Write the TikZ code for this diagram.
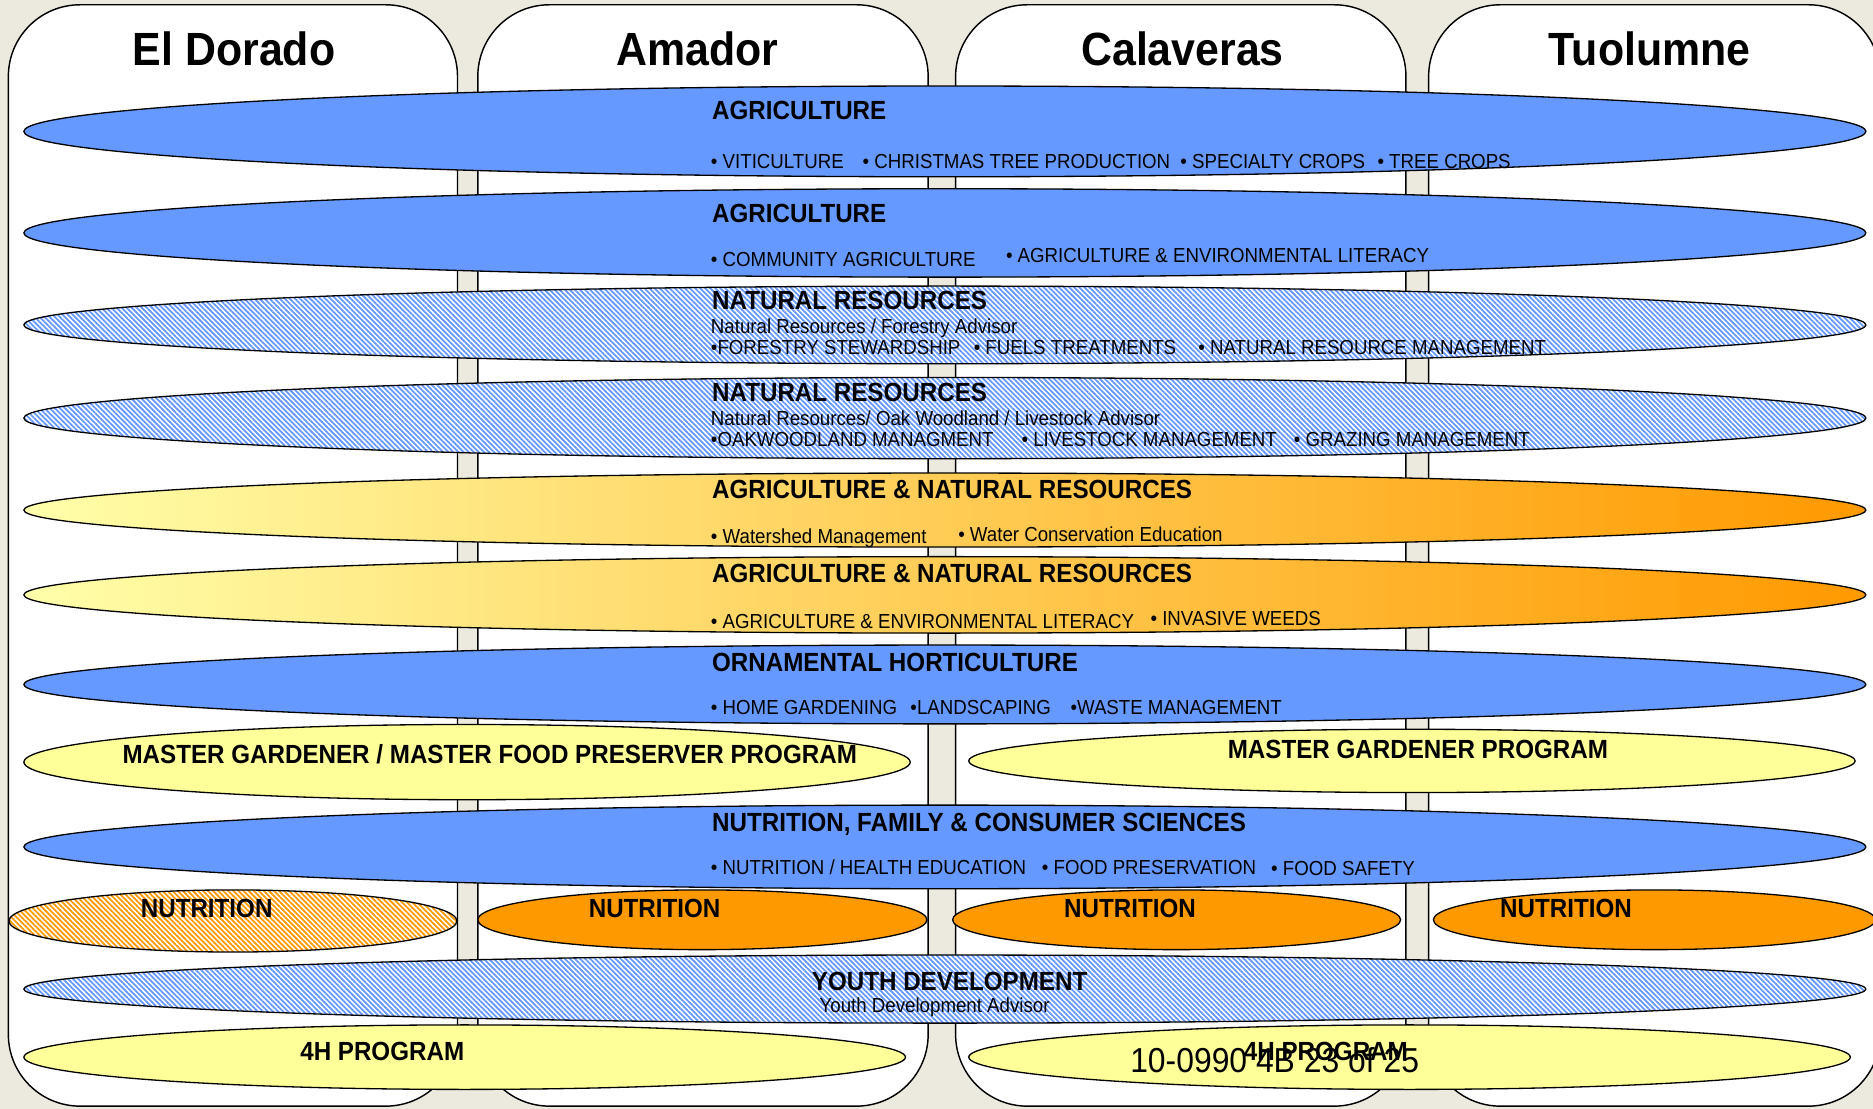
\documentclass[tikz,border=0pt]{standalone}
\usepackage{fontspec}
\setmainfont{Liberation Sans}[FakeStretch=0.92]
\usetikzlibrary{shapes.geometric,patterns.meta}
\definecolor{bgbeige}{RGB}{236,233,222}
\definecolor{ucblue}{RGB}{102,153,255}
\definecolor{ucyellow}{RGB}{255,255,153}
\definecolor{ucorange}{RGB}{255,153,0}
\definecolor{gradleft}{RGB}{255,255,170}
\definecolor{gradmid}{RGB}{255,224,136}
\begin{document}
\begin{tikzpicture}[x=1pt,y=-1pt,
  county/.style={draw=black,line width=1.2pt,fill=white,rounded corners=60pt},
  band/.style={ellipse,draw=black,line width=1.1pt,inner sep=0pt},
  solidblue/.style={band,fill=ucblue},
  solidyellow/.style={band,fill=ucyellow},
  solidorange/.style={band,fill=ucorange},
  gradband/.style={band,left color=gradleft,middle color=gradmid,right color=ucorange},
  hatchblue/.style={band,preaction={fill=white},pattern={Lines[angle=-45,distance=3pt,line width=1.5pt]},pattern color=ucblue},
  hatchorange/.style={band,preaction={fill=white},pattern={Lines[angle=-45,distance=3pt,line width=1.5pt]},pattern color=ucorange},
  ctitle/.style={anchor=base,inner sep=0pt,font=\fontsize{39}{42}\selectfont\bfseries},
  head/.style={anchor=base west,inner sep=0pt,font=\fontsize{22}{24}\selectfont\bfseries},
  chead/.style={anchor=base,inner sep=0pt,font=\fontsize{22}{24}\selectfont\bfseries},
  item/.style={anchor=base west,inner sep=0pt,font=\fontsize{17}{19}\selectfont},
  docno/.style={anchor=base west,inner sep=0pt,font=\fontsize{29}{31}\selectfont},
]
\useasboundingbox (0,0) rectangle (1568,928);
\clip (0,0) rectangle (1568,928);
\fill[bgbeige] (0,0) rectangle (1568,928);

% county columns
\draw[county] (7,4) rectangle (383,926);
\draw[county] (400,4) rectangle (777,926);
\draw[county] (800,4) rectangle (1177,926);
\draw[county] (1196,4) rectangle (1574,926);
\node[ctitle] (tEl) at (196,55) {El Dorado};
\node[ctitle] (tAm) at (584,55) {Amador};
\node[ctitle] (tCa) at (990,55) {Calaveras};
\node[ctitle] (tTu) at (1381,55) {Tuolumne};

% bands
\node[solidblue,minimum width=1542pt,minimum height=76pt] (agA) at (791,110) {};
\node[solidblue,minimum width=1542pt,minimum height=74pt] (agB) at (791,195) {};
\node[hatchblue,minimum width=1542pt,minimum height=65pt] (nrA) at (791,272) {};
\node[hatchblue,minimum width=1542pt,minimum height=68pt] (nrB) at (791,350) {};
\node[gradband,minimum width=1542pt,minimum height=62pt] (anrA) at (791,427) {};
\node[gradband,minimum width=1542pt,minimum height=64pt] (anrB) at (791,498) {};
\node[solidblue,minimum width=1542pt,minimum height=66pt] (oh) at (791,573) {};
\node[solidyellow,minimum width=742pt,minimum height=63pt] (mgA) at (391,638) {};
\node[solidyellow,minimum width=742pt,minimum height=53pt] (mgB) at (1182,637) {};
\node[solidblue,minimum width=1542pt,minimum height=70pt] (nfcs) at (791,709) {};
\node[hatchorange,minimum width=375pt,minimum height=52pt] (nutA) at (195,771) {};
\node[solidorange,minimum width=376pt,minimum height=50pt] (nutB) at (588,770) {};
\node[solidorange,minimum width=375pt,minimum height=50pt] (nutC) at (985,770) {};
\node[solidorange,minimum width=370pt,minimum height=50pt] (nutD) at (1385,770) {};
\node[hatchblue,minimum width=1542pt,minimum height=57pt] (youth) at (791,828) {};
\node[solidyellow,minimum width=738pt,minimum height=54pt] (fhA) at (389,885) {};
\node[solidyellow,minimum width=738pt,minimum height=54pt] (fhB) at (1180,885) {};

% Agriculture 1
\node[head] (agAh) at (596,100) {AGRICULTURE};
\node[item] (agA1) at (595,141) {• VITICULTURE};
\node[item] (agA2) at (722,141) {• CHRISTMAS TREE PRODUCTION};
\node[item] (agA3) at (988,141) {• SPECIALTY CROPS};
\node[item] (agA4) at (1153,141) {• TREE CROPS};
% Agriculture 2
\node[head] (agBh) at (596,186) {AGRICULTURE};
\node[item] (agB1) at (595,223) {• COMMUNITY AGRICULTURE};
\node[item] (agB2) at (842,220) {• AGRICULTURE \& ENVIRONMENTAL LITERACY};
% Natural resources 1
\node[head] (nrAh) at (596,259) {NATURAL RESOURCES};
\node[item] (nrAa) at (595,279) {Natural Resources / Forestry Advisor};
\node[item] (nrA1) at (595,297) {•FORESTRY STEWARDSHIP};
\node[item] (nrA2) at (815,297) {• FUELS TREATMENTS};
\node[item] (nrA3) at (1003,297) {• NATURAL RESOURCE MANAGEMENT};
% Natural resources 2
\node[head] (nrBh) at (596,336) {NATURAL RESOURCES};
\node[item] (nrBa) at (595,356) {Natural Resources/ Oak Woodland / Livestock Advisor};
\node[item] (nrB1) at (595,374) {•OAKWOODLAND MANAGMENT};
\node[item] (nrB2) at (855,374) {• LIVESTOCK MANAGEMENT};
\node[item] (nrB3) at (1083,374) {• GRAZING MANAGEMENT};
% ANR 1
\node[head] (anrAh) at (596,417) {AGRICULTURE \& NATURAL RESOURCES};
\node[item] (anrA1) at (595,455) {• Watershed Management};
\node[item] (anrA2) at (802,453) {• Water Conservation Education};
% ANR 2
\node[head] (anrBh) at (596,488) {AGRICULTURE \& NATURAL RESOURCES};
\node[item] (anrB1) at (595,526) {• AGRICULTURE \& ENVIRONMENTAL LITERACY};
\node[item] (anrB2) at (963,524) {• INVASIVE WEEDS};
% Ornamental horticulture
\node[head] (ohh) at (596,562) {ORNAMENTAL HORTICULTURE};
\node[item] (oh1) at (595,598) {• HOME GARDENING};
\node[item] (oh2) at (762,598) {•LANDSCAPING};
\node[item] (oh3) at (896,598) {•WASTE MANAGEMENT};
% Master gardener
\node[chead] (mgAt) at (410,639) {MASTER GARDENER / MASTER FOOD PRESERVER PROGRAM};
\node[chead] (mgBt) at (1187,635) {MASTER GARDENER PROGRAM};
% NFCS
\node[head] (nfcsh) at (596,696) {NUTRITION, FAMILY \& CONSUMER SCIENCES};
\node[item] (nfcs1) at (595,732) {• NUTRITION / HEALTH EDUCATION};
\node[item] (nfcs2) at (872,732) {• FOOD PRESERVATION};
\node[item] (nfcs3) at (1064,733) {• FOOD SAFETY};
% Nutrition
\node[chead] (nutAt) at (173,768) {NUTRITION};
\node[chead] (nutBt) at (548,768) {NUTRITION};
\node[chead] (nutCt) at (946,768) {NUTRITION};
\node[chead] (nutDt) at (1311,768) {NUTRITION};
% Youth
\node[chead] (youthh) at (795,829) {YOUTH DEVELOPMENT};
\node[item] (youtha) at (686,848) {Youth Development Advisor};
% 4H
\node[chead] (fhAt) at (320,888) {4H PROGRAM};
\node[chead] (fhBt) at (1110,888) {4H PROGRAM};
\node[docno] (doc) at (946,898) {10-0990 4B 23 of 25};
\end{tikzpicture}
\end{document}
